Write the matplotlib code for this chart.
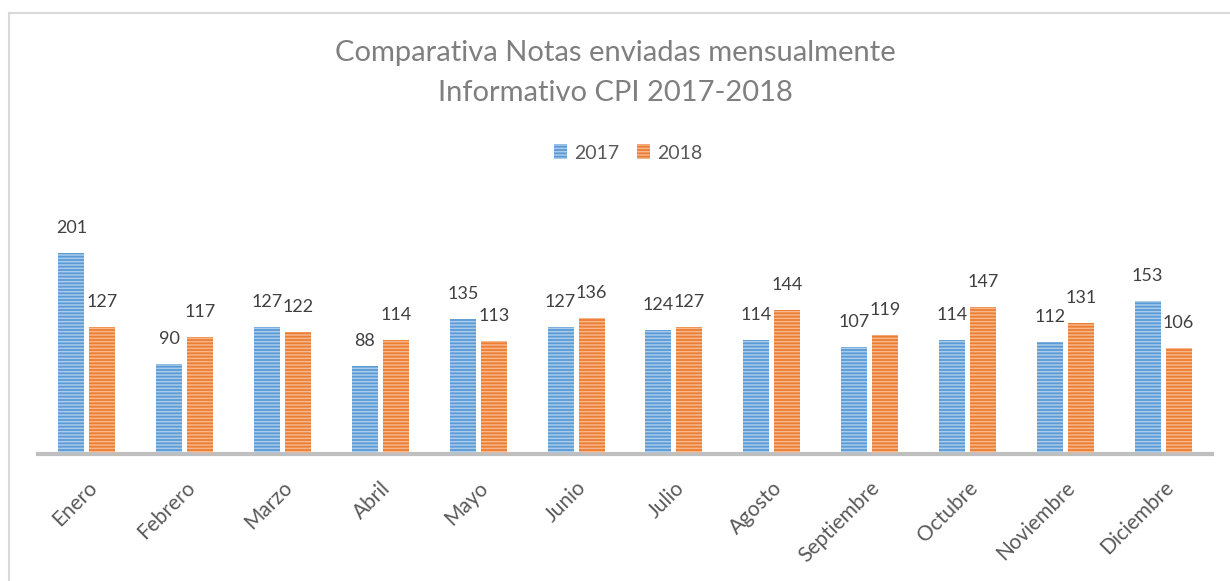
import matplotlib
matplotlib.use("Agg")
import matplotlib.pyplot as plt
from matplotlib.patches import Patch
from matplotlib.lines import Line2D
import numpy as np

months = ["Enero", "Febrero", "Marzo", "Abril", "Mayo", "Junio", "Julio",
          "Agosto", "Septiembre", "Octubre", "Noviembre", "Diciembre"]
v2017 = [201, 90, 127, 88, 135, 127, 124, 114, 107, 114, 112, 153]
v2018 = [127, 117, 122, 114, 113, 136, 127, 144, 119, 147, 131, 106]
series_names = ["2017", "2018"]
title_lines = ["Comparativa Notas enviadas mensualmente", "Informativo CPI 2017-2018"]

plt.rcParams['font.family'] = ['Lato', 'DejaVu Sans']
plt.rcParams['hatch.linewidth'] = 1.1

W, H = 1230, 581
fig = plt.figure(figsize=(W / 100, H / 100), dpi=100)
ax = fig.add_axes([38 / W, (H - 454) / H, (1212 - 38) / W, 250 / H])

blue, blue_l = "#5B9BD5", "#A9CBEC"
orange, orange_l = "#ED7D31", "#F6B78D"
hatch = "-----"

x = np.arange(len(months))
bw = 0.266
off = 0.158
for vals, dx, fc, hc in [(v2017, -off, blue, blue_l), (v2018, off, orange, orange_l)]:
    ax.bar(x + dx, vals, width=bw, color=fc, linewidth=0, zorder=2)
    bars = ax.bar(x + dx, vals, width=bw, facecolor="none", edgecolor=hc,
                  linewidth=0, hatch=hatch, zorder=3)
    for b, v in zip(bars, vals):
        ax.annotate(str(v), (b.get_x() + b.get_width() / 2, v), xytext=(0, 12),
                    textcoords="offset points", ha="center", va="bottom",
                    fontsize=13, color="#404040")

ax.set_xlim(-0.5, len(months) - 0.5)
ax.set_ylim(0, 250)
for s in ["top", "right", "left"]:
    ax.spines[s].set_visible(False)
ax.spines["bottom"].set_color("#BFBFBF")
ax.spines["bottom"].set_linewidth(3)
ax.set_yticks([])
ax.set_xticks(x)
ax.set_xticklabels(months, rotation=45, ha="right", rotation_mode="anchor",
                   fontsize=15, color="#595959")
ax.tick_params(axis="x", length=0, pad=17)

fig.text(615 / W, 1 - 53 / H, title_lines[0], ha="center", va="center",
         fontsize=21, fontweight="normal", color="#7F7F7F")
fig.text(615 / W, 1 - 93 / H, title_lines[1], ha="center", va="center",
         fontsize=21, fontweight="normal", color="#7F7F7F")

handles = [Patch(facecolor=blue, edgecolor=blue_l, hatch=hatch, linewidth=0),
           Patch(facecolor=orange, edgecolor=orange_l, hatch=hatch, linewidth=0)]
leg = fig.legend(handles, series_names, loc="center", bbox_to_anchor=(628 / W, 1 - 153 / H),
                 ncol=2, frameon=False, fontsize=14, handlelength=0.7, handleheight=0.8,
                 handletextpad=0.35, columnspacing=0.9)
for t in leg.get_texts():
    t.set_color("#595959")

fig.add_artist(Line2D([8.5 / W, 8.5 / W], [0, 1 - 12.5 / H], transform=fig.transFigure,
                      color="#D9D9D9", lw=1.5))
fig.add_artist(Line2D([8.5 / W, 1], [1 - 12.5 / H, 1 - 12.5 / H], transform=fig.transFigure,
                      color="#D9D9D9", lw=1.5))

fig.savefig("out.png", dpi=100)
